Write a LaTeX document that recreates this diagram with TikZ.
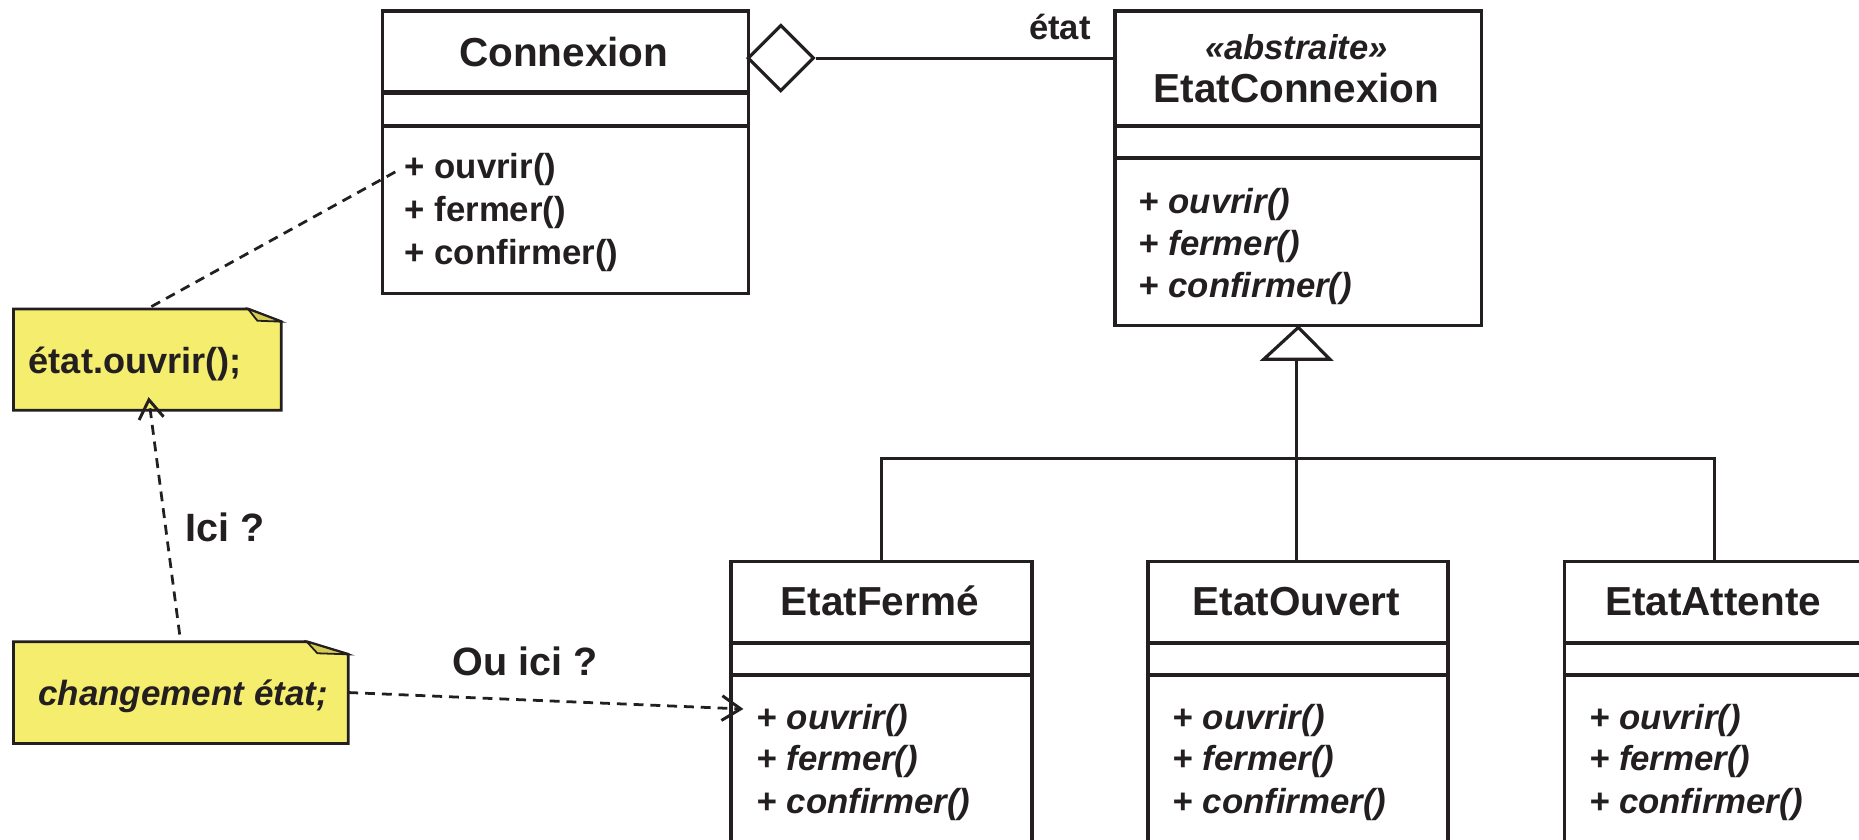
\documentclass[tikz,border=0pt]{standalone}
\usepackage{fontspec}
\setmainfont{Liberation Sans}
\usetikzlibrary{shapes.geometric,arrows.meta,calc}
\definecolor{ink}{HTML}{231F20}
\definecolor{notefill}{RGB}{245,237,110}
\definecolor{notefold}{RGB}{214,204,84}

\begin{document}
\begin{tikzpicture}[x=0.6pt,y=-0.6pt,
  classbox/.style={draw=ink, line width=1.7pt, fill=white, inner sep=0pt, anchor=north west},
  sepline/.style={draw=ink, line width=2.1pt},
  txt/.style={text=ink, inner sep=0pt, yshift=-3.3pt},
  title/.style={txt, font=\bfseries\fontsize{20.5}{24}\selectfont, text height=0.72em, text depth=0pt},
  stereo/.style={txt, font=\bfseries\itshape\fontsize{17.5}{21}\selectfont, text height=0.72em, text depth=0pt},
  meth/.style={txt, anchor=west, font=\bfseries\fontsize{17.6}{21}\selectfont, text height=0.74em, text depth=0.21em},
  absmeth/.style={meth, font=\bfseries\itshape\fontsize{17.6}{21}\selectfont},
  notebox/.style={inner sep=0pt, anchor=north west},
  noteline/.style={draw=ink, line width=1.4pt, fill=notefill},
  foldline/.style={draw=ink, line width=0.9pt, fill=notefold},
  notetext/.style={txt, anchor=west, font=\bfseries\fontsize{18.3}{22}\selectfont, text height=0.74em, text depth=0.21em},
  remark/.style={txt, font=\bfseries\fontsize{20}{24}\selectfont, text height=0.72em, text depth=0pt},
  link/.style={draw=ink, line width=1.6pt},
  dep/.style={draw=ink, line width=1.4pt, dash pattern=on 5pt off 3.5pt},
  deparrow/.style={dep, -{Straight Barb[length=9.5pt, width=12.5pt, line width=1.5pt]}},
  aggr/.style={shape=diamond, draw=ink, line width=1.6pt, fill=white, inner sep=0pt, minimum width=33.6pt, minimum height=33.6pt, aspect=1}
]
\useasboundingbox (0,0) rectangle (1568,707.7);
\clip (0,0) rectangle (1568,707.7);
\fill[white] (0,0) rectangle (1568,707.7);

% ---------- class Connexion ----------
\node[classbox, minimum width=185.4pt, minimum height=142.8pt] (connexion) at (321,8) {};
\draw[sepline] (connexion.west |- 0,78) -- (connexion.east |- 0,78);
\draw[sepline] (connexion.west |- 0,106) -- (connexion.east |- 0,106);
\node[title] (connexionT) at (475.5,45) {Connexion};
\node[meth] (cOuv) at (341,141) {+ ouvrir()};
\node[meth] (cFer) at (341,177) {+ fermer()};
\node[meth] (cConf) at (341,213) {+ confirmer()};

% ---------- abstract class EtatConnexion ----------
\node[classbox, minimum width=185.6pt, minimum height=159.2pt] (etatconn) at (939,8) {};
\draw[sepline] (etatconn.west |- 0,106.3) -- (etatconn.east |- 0,106.3);
\draw[sepline] (etatconn.west |- 0,133) -- (etatconn.east |- 0,133);
\node[stereo] (ecStereo) at (1093.5,39) {«abstraite»};
\node[title] (ecT) at (1093.5,75) {EtatConnexion};
\node[absmeth] (ecOuv) at (960,170) {+ ouvrir()};
\node[absmeth] (ecFer) at (960,205.5) {+ fermer()};
\node[absmeth] (ecConf) at (960,241) {+ confirmer()};

% ---------- concrete state classes ----------
\node[classbox, minimum width=152.4pt, minimum height=180pt] (ferme) at (615,472) {};
\node[classbox, minimum width=151.8pt, minimum height=180pt] (ouvert) at (967,472) {};
\node[classbox, minimum width=152.4pt, minimum height=180pt] (attente) at (1318,472) {};
\foreach \b in {ferme,ouvert,attente}{
  \draw[sepline] (\b.west |- 0,542) -- (\b.east |- 0,542);
  \draw[sepline] (\b.west |- 0,569.6) -- (\b.east |- 0,569.6);
}
\node[title] (fermeT) at (742,508) {EtatFermé};
\node[title] (ouvertT) at (1093.5,508) {EtatOuvert};
\node[title] (attenteT) at (1445,508) {EtatAttente};
\foreach \b/\x in {ferme/638,ouvert/989,attente/1340}{
  \node[absmeth] (\b Ouv) at (\x,605) {+ ouvrir()};
  \node[absmeth] (\b Fer) at (\x,640) {+ fermer()};
  \node[absmeth] (\b Conf) at (\x,676) {+ confirmer()};
}

% ---------- aggregation Connexion -> EtatConnexion ----------
\node[aggr] (diam) at (658.6,49) {};
\draw[link] (diam.east) -- (etatconn.west |- diam.east);
\node[stereo, font=\bfseries\fontsize{17.5}{21}\selectfont] (roleT) at (894,22) {état};

% ---------- generalisation ----------
\coordinate (tribase) at (1093.7,303);
\coordinate (bus) at (1093.7,387);
\draw[link] (tribase) -- (ouvert.north -| tribase);
\draw[link] (ferme.north) -- (ferme.north |- bus) -- (attente.north |- bus) -- (attente.north);
\draw[link, fill=white, line join=miter] (etatconn.south) -- ($(tribase)+(-27.8,0)$) -- ($(tribase)+(28,0)$) -- cycle;

% ---------- notes ----------
\node[notebox, minimum width=135.2pt, minimum height=50.8pt] (note1) at (11.3,260.6) {};
\draw[noteline] (note1.south west) -- (note1.north west) -- ($(note1.north east)+(-28.1,0)$)
  -- ($(note1.north east)+(0,10.7)$) -- (note1.south east) -- cycle;
\draw[foldline] ($(note1.north east)+(-28.1,0)$) -- ($(note1.north east)+(-20.2,9.9)$)
  -- ($(note1.north east)+(0,10.7)$) -- cycle;
\node[notetext] (note1T) at (24,305) {état.ouvrir();};

\node[notebox, minimum width=169.1pt, minimum height=51.1pt] (note2) at (11.3,541.2) {};
\draw[noteline] (note2.south west) -- (note2.north west) -- ($(note2.north east)+(-35.1,0)$)
  -- ($(note2.north east)+(0,10.7)$) -- (note2.south east) -- cycle;
\draw[foldline] ($(note2.north east)+(-35.1,0)$) -- ($(note2.north east)+(-26.1,9.8)$)
  -- ($(note2.north east)+(0,10.7)$) -- cycle;
\node[notetext, font=\bfseries\itshape\fontsize{17.7}{22}\selectfont] (note2T) at (32,585) {changement état;};

% ---------- note links ----------
\coordinate (ouvAnchor) at (337,143);
\coordinate (note1Tip) at ($(note1.south)+(1,-11)$);
\coordinate (fermeTip) at (627,598);
\draw[dep] ($(note1.north)+(3.4,-2)$) -- (ouvAnchor);
\draw[deparrow] ($(note2.north)+(-1,-6)$) -- (note1Tip);
\draw[deparrow] (note2.east) -- (fermeTip);
\node[remark] (iciT) at (190,445) {Ici ?};
\node[remark] (ouiciT) at (443,558) {Ou ici ?};
\end{tikzpicture}
\end{document}
